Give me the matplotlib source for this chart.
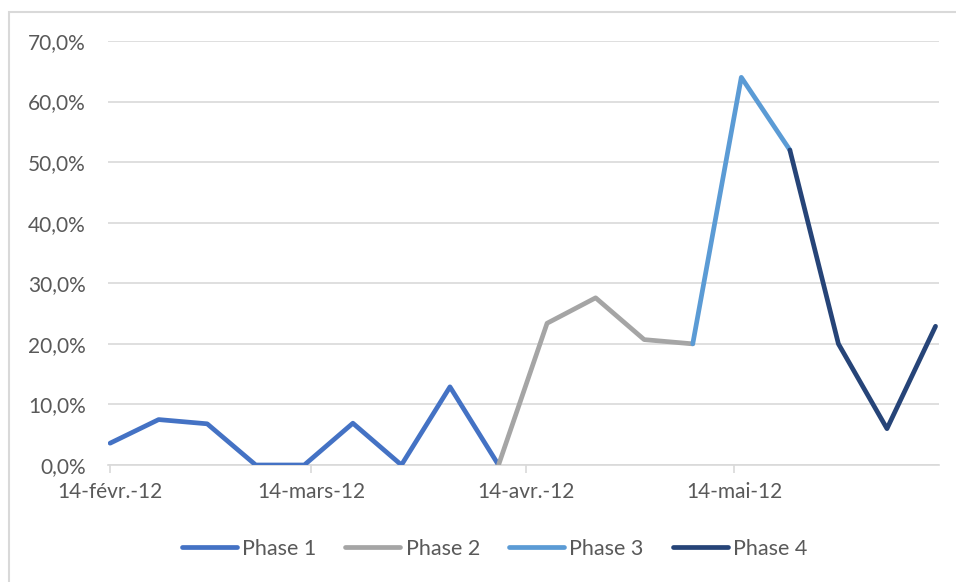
import numpy as np
import pandas as pd
import matplotlib
matplotlib.use('Agg')
import matplotlib.pyplot as plt
import matplotlib.dates as mdates
from matplotlib.patches import Rectangle

# weekly values
phase1_dates = pd.date_range('2012-02-14', periods=9, freq='7D')
phase1_vals = [3.6, 7.5, 6.8, 0.0, 0.0, 6.9, 0.0, 12.9, 0.0]

phase2_dates = pd.date_range('2012-04-10', periods=5, freq='7D')
phase2_vals = [0.0, 23.4, 27.6, 20.7, 20.0]

phase3_dates = pd.date_range('2012-05-08', periods=3, freq='7D')
phase3_vals = [20.0, 64.0, 52.0]

phase4_dates = pd.date_range('2012-05-22', periods=4, freq='7D')
phase4_vals = [52.0, 20.0, 6.0, 22.9]

tick_dates = pd.to_datetime(['2012-02-14', '2012-03-14', '2012-04-14', '2012-05-14'])
tick_labels = ['14-févr.-12', '14-mars-12', '14-avr.-12', '14-mai-12']

plt.rcParams['font.family'] = ['Lato', 'DejaVu Sans']
txt_color = '#595959'
grid_color = '#d9d9d9'

fig = plt.figure(figsize=(9.56, 5.82), dpi=100)
ax = fig.add_axes([108/956, 1 - 465/582, (939 - 108)/956, (465 - 41)/582])

series = [
    (phase1_dates, phase1_vals, '#4472c4', 'Phase 1'),
    (phase2_dates, phase2_vals, '#a5a5a5', 'Phase 2'),
    (phase3_dates, phase3_vals, '#5b9bd5', 'Phase 3'),
    (phase4_dates, phase4_vals, '#264478', 'Phase 4'),
]
for d, v, c, name in series:
    ax.plot(d, np.array(v) / 100, color=c, lw=3.4, label=name,
            solid_joinstyle='round', solid_capstyle='round', zorder=3)

ax.set_ylim(0, 0.7)
ax.set_yticks(np.arange(0, 0.71, 0.1))
ax.set_yticklabels([('%.1f%%' % (t * 100)).replace('.', ',') for t in np.arange(0, 0.71, 0.1)])
ax.set_xlim(mdates.date2num(pd.Timestamp('2012-02-14')) - 0.3,
            mdates.date2num(pd.Timestamp('2012-06-12')) + 0.5)
ax.set_xticks(mdates.date2num(tick_dates))
ax.set_xticklabels(tick_labels)

ax.grid(axis='y', color=grid_color, lw=1.2)
ax.set_axisbelow(True)
for s in ['top', 'right', 'left']:
    ax.spines[s].set_visible(False)
ax.spines['bottom'].set_color(grid_color)
ax.spines['bottom'].set_linewidth(1.2)
ax.tick_params(axis='y', length=0, pad=16, labelsize=15, labelcolor=txt_color)
ax.tick_params(axis='x', length=6, width=1.2, color=grid_color, pad=6,
               labelsize=15, labelcolor=txt_color)

leg = fig.legend(loc='center', bbox_to_anchor=(494.5/956, 1 - 549/582), ncol=4,
                 frameon=False, fontsize=15.5, handlelength=2.55, handletextpad=0.25,
                 columnspacing=1.35, labelcolor=txt_color)

# outer chart border (cropped at right and bottom)
fig.patches.append(Rectangle((9/956, -0.1), 1.1, 1 - 12/582 + 0.1,
                             transform=fig.transFigure, fill=False,
                             edgecolor=grid_color, lw=1.5))

fig.savefig('out.png', dpi=100)
